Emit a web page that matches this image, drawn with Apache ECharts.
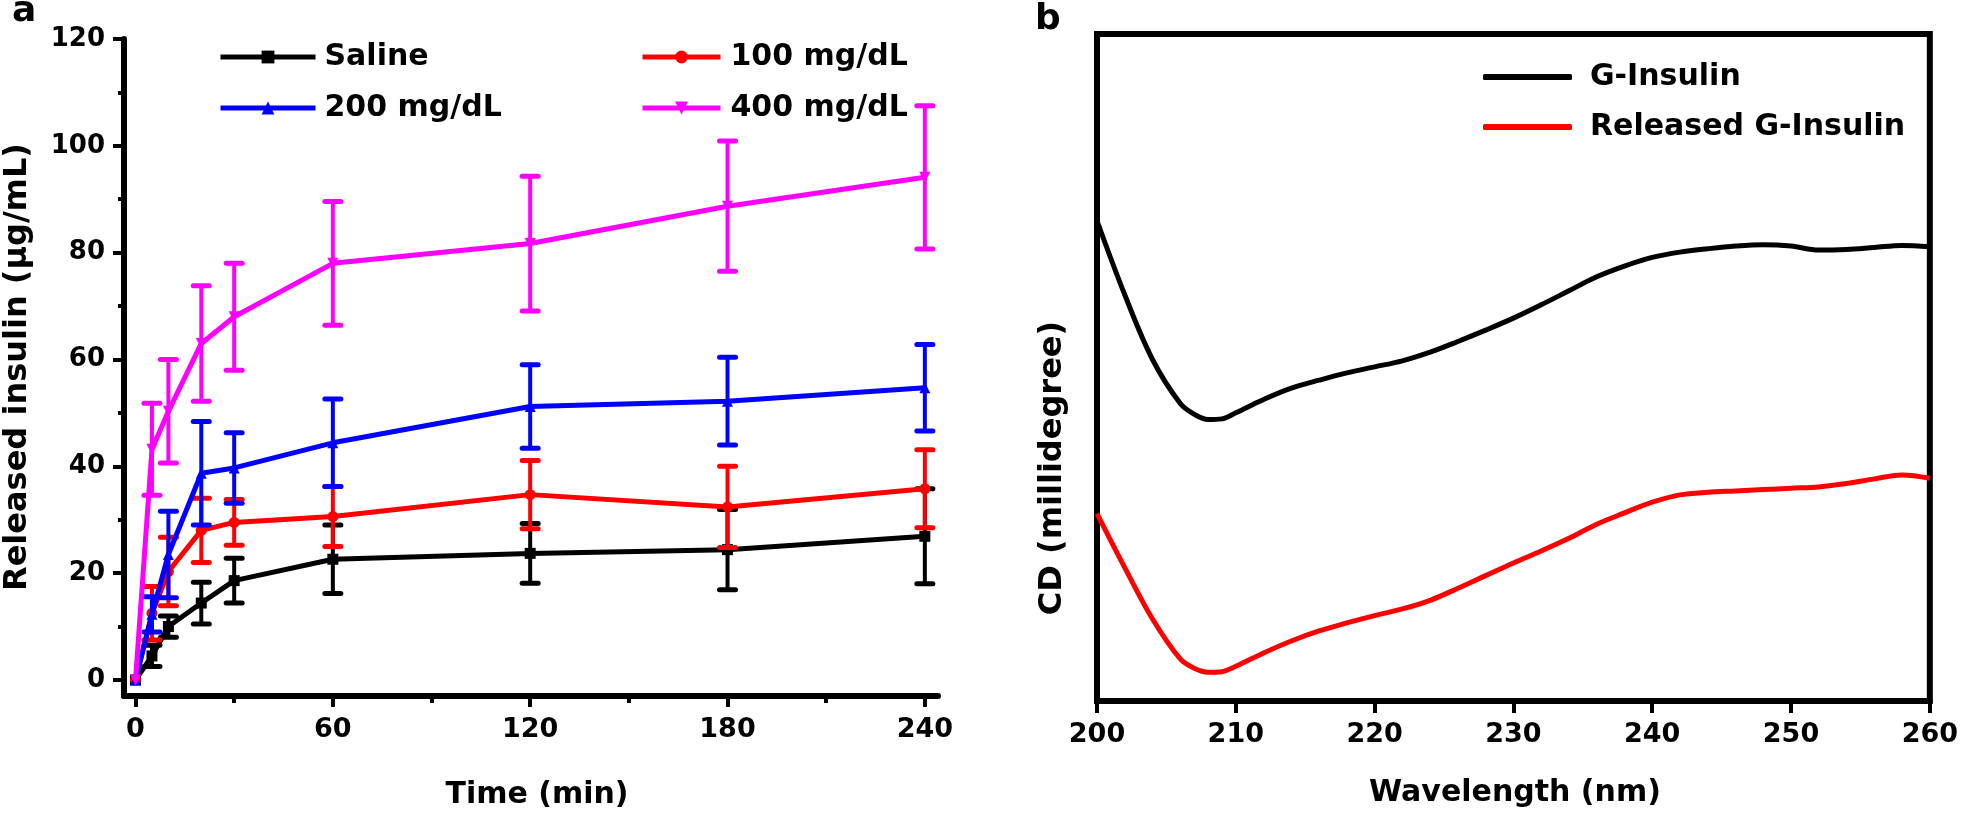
<!DOCTYPE html>
<html>
<head>
<meta charset="utf-8">
<script src="https://cdn.jsdelivr.net/npm/echarts@6/dist/echarts.min.js"></script>
<style>
html,body{margin:0;padding:0;background:#fff;}
#chart{width:1961px;height:815px;}
</style>
</head>
<body>
<div id="chart"></div>
<script>
// ---------- Panel a data ----------
var timeMin = [0, 5, 10, 20, 30, 60, 120, 180, 240];
var salineMean = [0, 4.5, 10, 14.4, 18.6, 22.6, 23.7, 24.4, 26.9];
var salineSd   = [0, 2, 2, 3.9, 4.2, 6.4, 5.6, 7.5, 8.9];
var g100Mean = [0, 12.5, 20.3, 28, 29.5, 30.6, 34.7, 32.4, 35.8];
var g100Sd   = [0, 5, 6.4, 6, 4.3, 5.6, 6.4, 7.6, 7.3];
var g200Mean = [0, 12.3, 23.5, 38.7, 39.7, 44.4, 51.2, 52.2, 54.7];
var g200Sd   = [0, 3.3, 8.1, 9.7, 6.6, 8.2, 7.8, 8.2, 8.1];
var g400Mean = [0, 43.2, 50.3, 63, 68, 78, 81.7, 88.7, 94.1];
var g400Sd   = [0, 8.6, 9.7, 10.8, 10, 11.6, 12.6, 12.2, 13.4];
var timeMajorTicks = [0, 60, 120, 180, 240];
var timeMinorTicks = [30, 90, 150, 210];
var insulinMajorTicks = [0, 20, 40, 60, 80, 100, 120];
var insulinMinorTicks = [10, 30, 50, 70, 90, 110];

// ---------- Panel b data (arbitrary CD units) ----------
var wavelength = [200, 202, 204, 206, 207, 208, 209, 210, 212, 214, 216, 218, 220, 222, 224, 226, 228, 230, 232, 234, 236, 238, 240, 242, 244, 246, 248, 250, 252, 254, 256, 258, 260];
var gInsulinCD = [72, 60.9, 51.2, 44.6, 43.0, 42.2, 42.3, 43.2, 45.2, 46.9, 48.1, 49.2, 50.1, 51.0, 52.3, 53.9, 55.6, 57.4, 59.4, 61.5, 63.6, 65.2, 66.5, 67.3, 67.8, 68.2, 68.4, 68.2, 67.6, 67.7, 68.0, 68.3, 68.1];
var releasedCD = [28.1, 20.0, 12.3, 6.3, 4.9, 4.3, 4.4, 5.2, 7.2, 9.0, 10.5, 11.7, 12.8, 13.8, 15.1, 16.9, 18.8, 20.7, 22.5, 24.4, 26.5, 28.2, 29.8, 30.9, 31.3, 31.5, 31.7, 31.9, 32.1, 32.6, 33.3, 33.9, 33.4];

var FONT = 'DejaVu Sans';

function pairs(xs, ys) { return xs.map(function (x, i) { return [x, ys[i]]; }); }
function errData(xs, m, s) {
  var out = [];
  xs.forEach(function (x, i) { if (s[i] > 0) out.push([x, m[i] - s[i], m[i] + s[i]]); });
  return out;
}
function errSeries(name, color, data, z) {
  return {
    type: 'custom', name: name, xAxisIndex: 0, yAxisIndex: 0, z: z,
    encode: { x: 0, y: [1, 2] },
    data: data,
    renderItem: function (params, api) {
      var lo = api.coord([api.value(0), api.value(1)]);
      var hi = api.coord([api.value(0), api.value(2)]);
      var hw = 8;
      return {
        type: 'group', children: [
          { type: 'line', shape: { x1: lo[0], y1: lo[1], x2: hi[0], y2: hi[1] }, style: { stroke: color, lineWidth: 4 } },
          { type: 'line', shape: { x1: lo[0] - hw, y1: lo[1], x2: lo[0] + hw, y2: lo[1] }, style: { stroke: color, lineWidth: 5, lineCap: 'round' } },
          { type: 'line', shape: { x1: hi[0] - hw, y1: hi[1], x2: hi[0] + hw, y2: hi[1] }, style: { stroke: color, lineWidth: 5, lineCap: 'round' } }
        ]
      };
    }
  };
}
function lineSeries(name, color, symbol, data, z) {
  return {
    type: 'line', name: name, xAxisIndex: 0, yAxisIndex: 0, z: z,
    data: data, symbol: symbol, symbolSize: 11, showSymbol: true,
    lineStyle: { color: color, width: 5 }, itemStyle: { color: color },
    animation: false
  };
}

var invTri = 'path://M0,0 L10,0 L5,9 Z';
var labelStyleY = { color: '#000', fontFamily: FONT, fontSize: 26, fontWeight: 'bold' };
var labelStyleX = { color: '#000', fontFamily: FONT, fontSize: 27, fontWeight: 'bold' };
var legendText = { color: '#000', fontFamily: FONT, fontSize: 30, fontWeight: 'bold', lineHeight: 30 };
var AXW = 6;

var chart = echarts.init(document.getElementById('chart'), null, { renderer: 'canvas' });
var option = {
  animation: false,
  backgroundColor: '#fff',
  grid: [
    { left: 124, top: 39, width: 814, height: 657, containLabel: false },
    { left: 1097, top: 34, width: 837, height: 667, show: true, borderColor: '#000', borderWidth: AXW, backgroundColor: 'transparent' }
  ],
  xAxis: [
    { type: 'value', gridIndex: 0, min: -3.5, max: 244, position: 'bottom',
      axisLine: { show: true, onZero: false, lineStyle: { color: '#000', width: AXW } },
      axisTick: { show: true, length: 11, lineStyle: { color: '#000', width: 4 }, customValues: timeMajorTicks },
      axisLabel: Object.assign({ margin: 20, customValues: timeMajorTicks }, labelStyleX),
      splitLine: { show: false } },
    { type: 'value', gridIndex: 0, min: -3.5, max: 244, position: 'bottom',
      axisLine: { show: false, onZero: false },
      axisTick: { show: true, length: 7, lineStyle: { color: '#000', width: 4 }, customValues: timeMinorTicks },
      axisLabel: { show: false }, splitLine: { show: false } },
    { type: 'value', gridIndex: 1, min: 200, max: 260, interval: 10, position: 'bottom',
      axisLine: { show: true, onZero: false, lineStyle: { color: '#000', width: AXW } },
      axisTick: { show: true, length: 12, lineStyle: { color: '#000', width: 4 } },
      axisLabel: Object.assign({ margin: 20 }, labelStyleX),
      splitLine: { show: false } }
  ],
  yAxis: [
    { type: 'value', gridIndex: 0, min: -3, max: 120, position: 'left',
      axisLine: { show: true, onZero: false, lineStyle: { color: '#000', width: AXW } },
      axisTick: { show: true, length: 11, lineStyle: { color: '#000', width: 4 }, customValues: insulinMajorTicks },
      axisLabel: Object.assign({ margin: 19, customValues: insulinMajorTicks }, labelStyleY),
      splitLine: { show: false } },
    { type: 'value', gridIndex: 0, min: -3, max: 120, position: 'left',
      axisLine: { show: false, onZero: false },
      axisTick: { show: true, length: 6, lineStyle: { color: '#000', width: 4 }, customValues: insulinMinorTicks },
      axisLabel: { show: false }, splitLine: { show: false } },
    { type: 'value', gridIndex: 1, min: 0, max: 100, position: 'left',
      axisLine: { show: true, onZero: false, lineStyle: { color: '#000', width: AXW } },
      axisTick: { show: false }, axisLabel: { show: false }, splitLine: { show: false } }
  ],
  legend: [
    { left: 213, top: 37, orient: 'vertical', itemWidth: 95, itemHeight: 16, itemGap: 21,
      lineStyle: { width: 5 },
      data: ['Saline', '200 mg/dL'], textStyle: Object.assign({ padding: [0, 0, 0, 4] }, legendText), selectedMode: false },
    { left: 635, top: 37, orient: 'vertical', itemWidth: 78, itemHeight: 16, itemGap: 21,
      lineStyle: { width: 5 },
      data: ['100 mg/dL', '400 mg/dL'], textStyle: Object.assign({ padding: [0, 0, 0, 5] }, legendText), selectedMode: false },
    { left: 1478, top: 57, orient: 'vertical', itemWidth: 89, itemHeight: 6, itemGap: 20,
      data: [{ name: 'G-Insulin', icon: 'roundRect' }, { name: 'Released G-Insulin', icon: 'roundRect' }],
      textStyle: Object.assign({ padding: [0, 0, 0, 13] }, legendText), selectedMode: false }
  ],
  graphic: [
    { type: 'text', x: 12, y: 12, style: { text: 'a', fontFamily: FONT, fontSize: 36, fontWeight: 'bold', fill: '#000', align: 'left', verticalAlign: 'middle' } },
    { type: 'text', x: 1048, y: 20, style: { text: 'b', fontFamily: FONT, fontSize: 36, fontWeight: 'bold', fill: '#000', align: 'center', verticalAlign: 'middle' } },
    { type: 'text', x: 537, y: 795, style: { text: 'Time (min)', fontFamily: FONT, fontSize: 30, fontWeight: 'bold', fill: '#000', align: 'center', verticalAlign: 'middle' } },
    { type: 'text', x: 18, y: 367, rotation: Math.PI / 2, style: { text: 'Released insulin (\u00b5g/mL)', fontFamily: FONT, fontSize: 32, fontWeight: 'bold', fill: '#000', align: 'center', verticalAlign: 'middle' } },
    { type: 'text', x: 1515, y: 793, style: { text: 'Wavelength (nm)', fontFamily: FONT, fontSize: 30, fontWeight: 'bold', fill: '#000', align: 'center', verticalAlign: 'middle' } },
    { type: 'text', x: 1053, y: 468, rotation: Math.PI / 2, style: { text: 'CD (millidegree)', fontFamily: FONT, fontSize: 32, fontWeight: 'bold', fill: '#000', align: 'center', verticalAlign: 'middle' } }
  ],
  series: [
    errSeries('Saline err', '#000000', errData(timeMin, salineMean, salineSd), 2),
    lineSeries('Saline', '#000000', 'rect', pairs(timeMin, salineMean), 2),
    errSeries('100 err', '#ff0000', errData(timeMin, g100Mean, g100Sd), 3),
    lineSeries('100 mg/dL', '#ff0000', 'circle', pairs(timeMin, g100Mean), 3),
    errSeries('200 err', '#0000ff', errData(timeMin, g200Mean, g200Sd), 4),
    lineSeries('200 mg/dL', '#0000ff', 'triangle', pairs(timeMin, g200Mean), 4),
    errSeries('400 err', '#ff00ff', errData(timeMin, g400Mean, g400Sd), 5),
    lineSeries('400 mg/dL', '#ff00ff', invTri, pairs(timeMin, g400Mean), 5),
    { type: 'line', name: 'G-Insulin', xAxisIndex: 2, yAxisIndex: 2, data: pairs(wavelength, gInsulinCD),
      symbol: 'none', smooth: 0.35, lineStyle: { color: '#000', width: 5 }, itemStyle: { color: '#000' } },
    { type: 'line', name: 'Released G-Insulin', xAxisIndex: 2, yAxisIndex: 2, data: pairs(wavelength, releasedCD),
      symbol: 'none', smooth: 0.35, lineStyle: { color: '#ff0000', width: 5 }, itemStyle: { color: '#ff0000' } }
  ]
};
chart.setOption(option);
</script>
</body>
</html>
